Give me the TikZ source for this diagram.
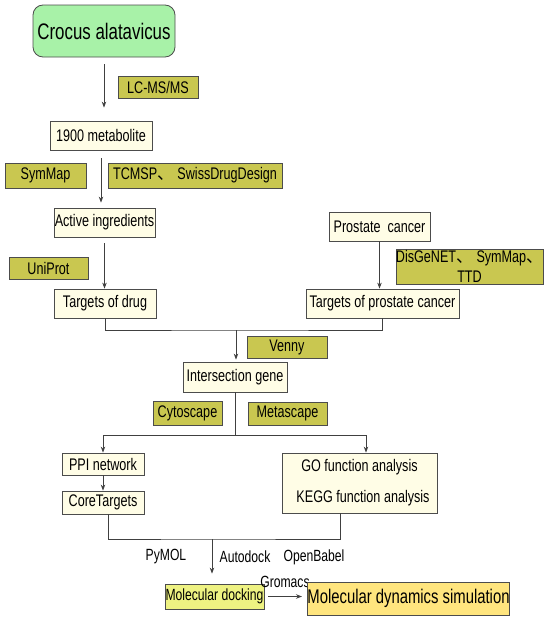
\documentclass[tikz,border=0pt]{standalone}
\usepackage{fontspec}
\setmainfont{Liberation Sans}[FakeStretch=0.75]
\newfontfamily\cjk{Noto Sans CJK SC}
\usetikzlibrary{arrows.meta}
\definecolor{leafgreen}{HTML}{A8F2A8}
\definecolor{cream}{HTML}{FFFDE6}
\definecolor{toololive}{HTML}{C9C750}
\definecolor{dockyellow}{HTML}{EEF282}
\definecolor{mdsyellow}{HTML}{FFE57E}
\tikzset{
  base/.style={draw=black!70, line width=0.8pt, inner sep=0pt, align=center,
    font=\fontsize{16.8}{19}\selectfont},
  box/.style={base, fill=cream},
  tool/.style={base, fill=toololive},
  lbl/.style={inner sep=0pt, font=\fontsize{16.2}{18}\selectfont},
  link/.style={draw=black!75, line width=0.9pt},
  arr/.style={link, -{Stealth[length=6pt,width=4.5pt]}},
}
\begin{document}
\begin{tikzpicture}[x=1pt,y=-1pt]
\useasboundingbox (0,0) rectangle (550,624);

\node[base, fill=leafgreen, rounded corners=10pt, minimum width=142pt, minimum height=52pt,
  font=\fontsize{22.5}{25}\selectfont] (crocus) at (104,31) {Crocus alatavicus};
\node[tool, minimum width=80pt, minimum height=22pt] (lcms) at (158,87) {LC-MS/MS};
\node[box, minimum width=102pt, minimum height=29pt] (meta) at (101,135.5) {1900 metabolite};
\node[tool, minimum width=81pt, minimum height=25pt] (symmap) at (45.5,175.5) {SymMap};
\node[tool, minimum width=174pt, minimum height=25pt] (tcmsp) at (195,175.5) {TCMSP{\cjk 、} SwissDrugDesign};
\node[box, minimum width=101pt, minimum height=29pt] (active) at (104.5,222.5) {Active ingredients};
\node[tool, minimum width=79pt, minimum height=22pt] (uniprot) at (48.5,268) {UniProt};
\node[box, minimum width=102pt, minimum height=29pt] (tdrug) at (105,303.5) {Targets of drug};

\node[box, minimum width=101pt, minimum height=29pt] (prostate) at (379.5,226.5) {Prostate\ \ cancer};
\node[tool, minimum width=145pt, minimum height=35pt, font=\fontsize{16.8}{20}\selectfont] (disgenet) at (469.5,266.5)
  {DisGeNET{\cjk 、} SymMap{\cjk 、}\\TTD};
\node[box, minimum width=153pt, minimum height=29pt] (tprost) at (382.5,303.5) {Targets of prostate cancer};

\node[tool, minimum width=80pt, minimum height=22pt] (venny) at (287,347) {Venny};
\node[box, minimum width=104pt, minimum height=30pt] (inter) at (235,377) {Intersection gene};
\node[tool, minimum width=69pt, minimum height=24pt] (cyto) at (187.5,413) {Cytoscape};
\node[tool, minimum width=79pt, minimum height=23pt] (metascape) at (287.5,413.5) {Metascape};

\node[box, minimum width=82pt, minimum height=22pt] (ppi) at (103,464) {PPI network};
\node[box, minimum width=82pt, minimum height=23pt] (core) at (103,502.5) {CoreTargets};
\node[box, minimum width=155pt, minimum height=60pt] (goana) at (359.5,483)
  {GO function analysis\\[12pt]\ \ KEGG function analysis};

\node[lbl] (pymol) at (166,557) {PyMOL};
\node[lbl] (autodock) at (245,557) {Autodock};
\node[lbl] (openbabel) at (314,557) {OpenBabel};
\node[base, fill=dockyellow, minimum width=99pt, minimum height=25pt, font=\fontsize{16.2}{18}\selectfont] (dock) at (214.5,596.5) {Molecular docking};
\node[lbl] (gromacs) at (285,582) {Gromacs};
\node[base, fill=mdsyellow, minimum width=199pt, minimum height=33pt, font=\fontsize{19.8}{22}\selectfont] (mds) at (408.5,598.5) {Molecular dynamics simulation};

\draw[arr, shorten <=7pt, shorten >=13pt] (crocus.south) -- (crocus.south |- meta.north);
\draw[arr, shorten <=8pt, shorten >=5pt] (meta.south) -- (meta.south |- active.north);
\draw[arr, shorten <=6pt] (active.south) -- (active.south |- tdrug.north);
\draw[arr] (prostate.south) -- (prostate.south |- tprost.north);

\coordinate (join) at (236,330);
\draw[link] (tdrug.south) |- (join) -| (tprost.south);
\draw[arr, shorten >=2pt] (join) -- (join |- inter.north);

\coordinate (split) at (235,435);
\draw[link] (inter.south) -- (split);
\draw[arr] (split) -| (ppi.north);
\draw[arr] (split) -| ([xshift=6.5pt]goana.north);
\draw[arr] (ppi) -- (core);

\coordinate (merge) at (212,539);
\draw[link] ([xshift=5pt]core.south) |- (merge) -| ([xshift=-19.5pt]goana.south);
\draw[arr, shorten >=10pt] (merge) -- (merge |- dock.north);
\draw[arr, shorten <=4pt, shorten >=5pt] (dock.east) -- (mds.west |- dock.east);

\end{tikzpicture}
\end{document}
